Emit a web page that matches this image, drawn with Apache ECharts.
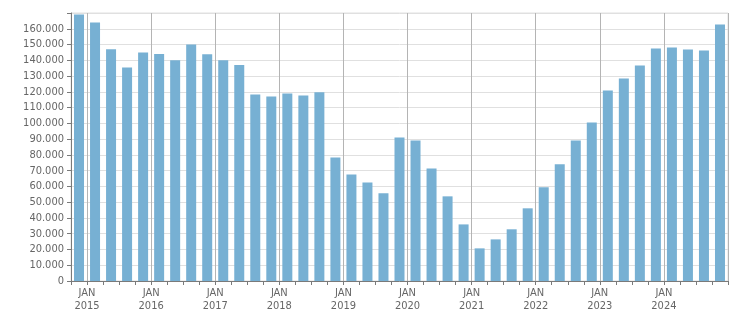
<!DOCTYPE html>
<html>
<head>
<meta charset="utf-8">
<script src="https://cdn.jsdelivr.net/npm/echarts@6/dist/echarts.min.js"></script>
<style>
html,body{margin:0;padding:0;background:#fff;}
#chart{width:751px;height:313px;}
</style>
</head>
<body>
<div id="chart"></div>
<script>
// Quarterly categories: Q4 2014 .. Q4 2024
var quarters = ['2014-Q4',
  '2015-Q1','2015-Q2','2015-Q3','2015-Q4',
  '2016-Q1','2016-Q2','2016-Q3','2016-Q4',
  '2017-Q1','2017-Q2','2017-Q3','2017-Q4',
  '2018-Q1','2018-Q2','2018-Q3','2018-Q4',
  '2019-Q1','2019-Q2','2019-Q3','2019-Q4',
  '2020-Q1','2020-Q2','2020-Q3','2020-Q4',
  '2021-Q1','2021-Q2','2021-Q3','2021-Q4',
  '2022-Q1','2022-Q2','2022-Q3','2022-Q4',
  '2023-Q1','2023-Q2','2023-Q3','2023-Q4',
  '2024-Q1','2024-Q2','2024-Q3','2024-Q4'];

var values = [169000,
  164000,147000,135500,145000,
  144000,140000,150000,143800,
  140000,137000,118300,117000,
  119000,117700,119700,78400,
  67600,62500,55600,91100,
  89200,71400,53700,35900,
  20700,26400,32800,46100,
  59400,74000,89200,100600,
  120800,128500,136700,147500,
  148100,146800,146200,162700];

var yTicks = [0,10000,20000,30000,40000,50000,60000,70000,80000,90000,100000,110000,120000,130000,140000,150000,160000];
var yMax = 170000;
var monthLabel = 'JAN';

function fmt(v){
  return String(v).replace(/\B(?=(\d{3})+(?!\d))/g, '.');
}

var chart = echarts.init(document.getElementById('chart'), null, {renderer:'canvas'});
var labelFont = '"DejaVu Sans Condensed", "DejaVu Sans", sans-serif';
chart.setOption({
  animation: false,
  backgroundColor: '#fff',
  grid: {left: 71, right: 23, top: 13, bottom: 32, show: true, borderColor: '#e0e0e0', borderWidth: 1, backgroundColor: 'transparent'},
  xAxis: {
    type: 'category',
    data: quarters,
    boundaryGap: true,
    axisLine: {show: true, lineStyle: {color: '#7a7a7a', width: 1}},
    axisTick: {show: true, interval: 0, length: 4, alignWithLabel: false, lineStyle: {color: '#7a7a7a'}},
    axisLabel: {
      interval: function(i){ return i % 4 === 1; },
      formatter: function(v){ return monthLabel + '\n' + v.slice(0,4); },
      color: '#666',
      fontFamily: labelFont,
      fontSize: 11,
      lineHeight: 13,
      margin: 6,
      align: 'center',
      padding: [0, 16, 0, 0]
    },
    splitLine: {
      show: true,
      interval: function(i){ return i % 4 === 1 && i < quarters.length; },
      lineStyle: {color: '#b4b4b4', width: 1}
    }
  },
  yAxis: {
    type: 'value',
    min: 0,
    max: yMax,
    interval: 10000,
    axisLine: {show: true, lineStyle: {color: '#7a7a7a', width: 1}},
    axisTick: {show: true, length: 4, lineStyle: {color: '#7a7a7a'}},
    axisLabel: {
      color: '#666',
      fontFamily: labelFont,
      fontSize: 11,
      margin: 7,
      formatter: function(v){ return yTicks.indexOf(v) >= 0 ? fmt(v) : ''; }
    },
    splitLine: {show: true, lineStyle: {color: '#e0e0e0', width: 1}}
  },
  series: [{
    type: 'bar',
    data: values,
    barWidth: 10,
    itemStyle: {color: '#77b0d3'}
  }]
});
</script>
</body>
</html>
